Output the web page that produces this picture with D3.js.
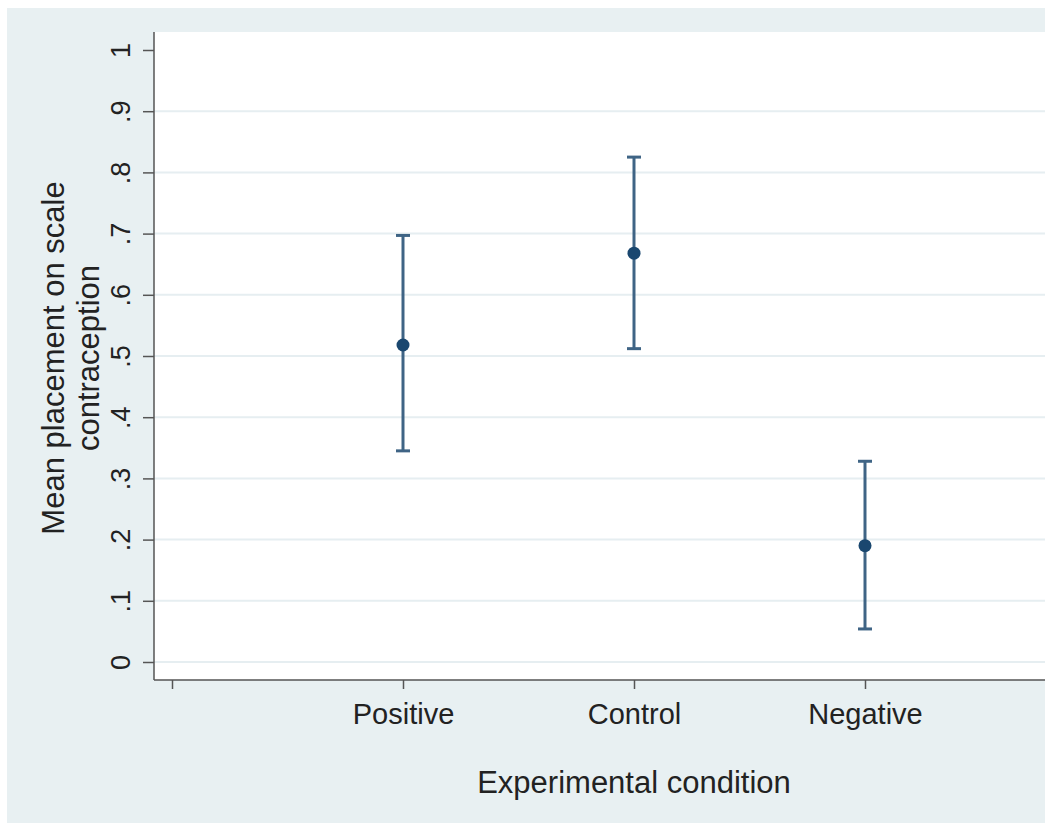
<!DOCTYPE html>
<html>
<head>
<meta charset="UTF-8"/>
<script src="https://d3js.org/d3.v7.min.js"></script>
<style>
body { margin: 0; background: white; }
text { font-family: "Liberation Sans", Arial, sans-serif; fill: #222; }
</style>
</head>
<body>
<div id="chart"></div>
<script>
// data
var conditions = ["Positive", "Control", "Negative"];
var means = [0.518, 0.668, 0.19];
var lower = [0.345, 0.512, 0.054];
var upper = [0.697, 0.825, 0.328];
var yTicks = [0, 0.1, 0.2, 0.3, 0.4, 0.5, 0.6, 0.7, 0.8, 0.9, 1];

var W = 1045, H = 823;
var svg = d3.select("#chart").append("svg")
    .attr("width", W)
    .attr("height", H);

// outer graph region
svg.append("rect")
    .attr("x", 7).attr("y", 8)
    .attr("width", W - 7).attr("height", H - 8)
    .attr("fill", "#e8f0f2");

var pLeft = 154, pTop = 32, pRight = W, pBottom = 680;

// plot region
svg.append("rect")
    .attr("x", pLeft).attr("y", pTop)
    .attr("width", pRight - pLeft).attr("height", pBottom - pTop)
    .attr("fill", "white");

var y = d3.scaleLinear().domain([0, 1]).range([662, 50]);
var x = d3.scaleLinear().domain([0, 4]).range([172, 172 + 4 * 231]);

// gridlines
svg.append("g").selectAll("line")
    .data(yTicks.slice(0, -1))
    .enter().append("line")
    .attr("x1", pLeft).attr("x2", pRight)
    .attr("y1", function(d) { return y(d); })
    .attr("y2", function(d) { return y(d); })
    .attr("stroke", "#e6eef1")
    .attr("stroke-width", 2);

// y axis
var yAxis = d3.axisLeft(y)
    .tickValues(yTicks)
    .tickSize(11)
    .tickPadding(0)
    .tickFormat(function(d) {
        if (d === 0) return "0";
        if (d === 1) return "1";
        return d3.format(".1f")(d).replace(/^0/, "");
    });
var gy = svg.append("g")
    .attr("transform", "translate(" + pLeft + ",0)")
    .call(yAxis);
gy.select(".domain").attr("d", "M0," + pTop + "V" + pBottom).attr("stroke", "#555").attr("stroke-width", 1.5);
gy.selectAll(".tick line").attr("stroke", "#555").attr("stroke-width", 1.5);
gy.selectAll(".tick text")
    .attr("x", 0).attr("dy", 0)
    .attr("transform", "translate(-24,0) rotate(-90)")
    .attr("text-anchor", "middle")
    .style("font-size", "27px")
    .style("font-family", "'Liberation Sans', Arial, sans-serif")
    .attr("fill", "#222");

// x axis
var xAxis = d3.axisBottom(x)
    .tickValues([0, 1, 2, 3])
    .tickSize(9)
    .tickPadding(14)
    .tickFormat(function(d) { return d === 0 ? "" : conditions[d - 1]; });
var gx = svg.append("g")
    .attr("transform", "translate(0," + pBottom + ")")
    .call(xAxis);
gx.select(".domain").attr("d", "M" + pLeft + ",0H" + pRight).attr("stroke", "#555").attr("stroke-width", 1.5);
gx.selectAll(".tick line").attr("stroke", "#555").attr("stroke-width", 1.5);
gx.selectAll(".tick text")
    .style("font-size", "29px")
    .style("font-family", "'Liberation Sans', Arial, sans-serif")
    .attr("fill", "#222");

// error bars
var bars = svg.append("g");
conditions.forEach(function(c, i) {
    var cx = x(i + 1);
    bars.append("line")
        .attr("x1", cx).attr("x2", cx)
        .attr("y1", y(lower[i])).attr("y2", y(upper[i]))
        .attr("stroke", "#3f6485").attr("stroke-width", 3);
    [lower[i], upper[i]].forEach(function(v) {
        bars.append("line")
            .attr("x1", cx - 7).attr("x2", cx + 7)
            .attr("y1", y(v)).attr("y2", y(v))
            .attr("stroke", "#3f6485").attr("stroke-width", 3);
    });
    bars.append("circle")
        .attr("cx", cx).attr("cy", y(means[i]))
        .attr("r", 6.5)
        .attr("fill", "#1a476f");
});

// axis titles
svg.append("text")
    .attr("x", 634).attr("y", 793)
    .attr("text-anchor", "middle")
    .style("font-size", "31px")
    .text("Experimental condition");

var yt = svg.append("text")
    .attr("transform", "translate(64,358) rotate(-90)")
    .attr("text-anchor", "middle")
    .style("font-size", "31px");
yt.append("tspan").attr("x", 0).attr("y", 0).text("Mean placement on scale");
yt.append("tspan").attr("x", 0).attr("y", 35).text("contraception");
</script>
</body>
</html>
